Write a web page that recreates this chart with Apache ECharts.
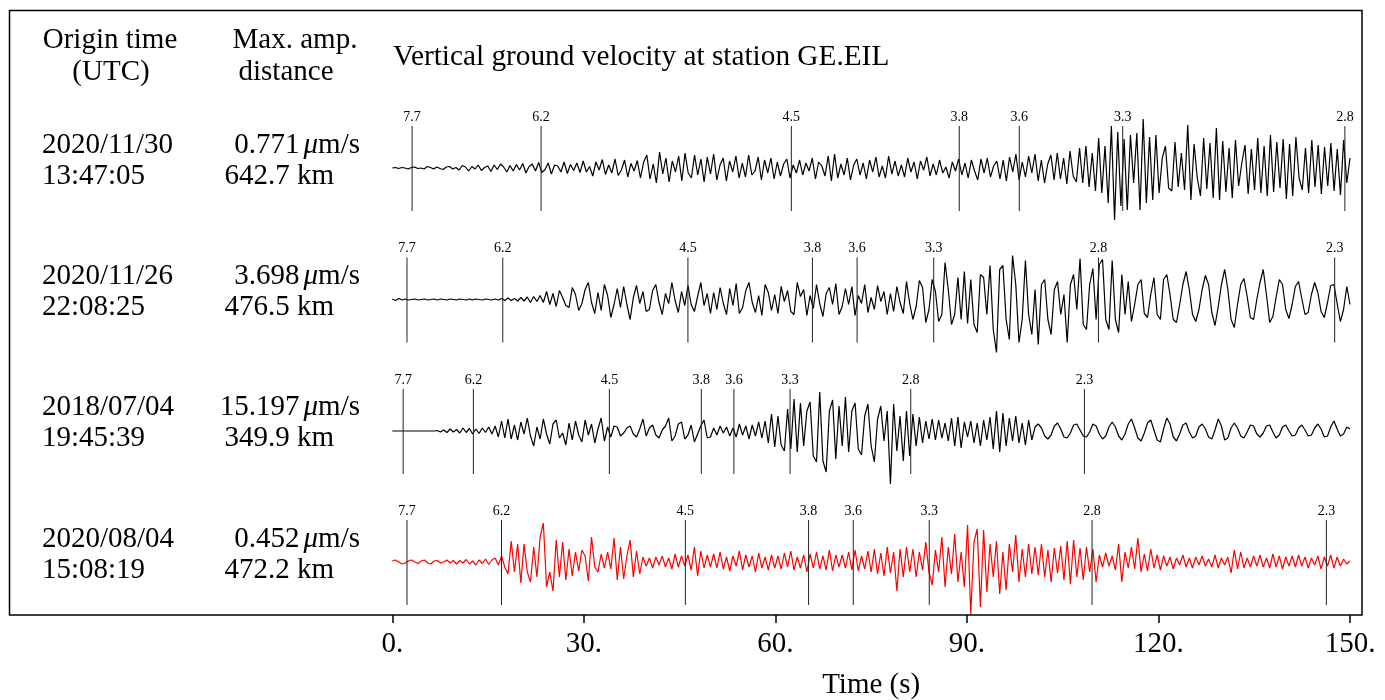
<!DOCTYPE html>
<html><head><meta charset="utf-8">
<script src="https://cdn.jsdelivr.net/npm/echarts@6.0.0/dist/echarts.min.js"></script>
<style>html,body{margin:0;padding:0;background:#fff}#c{width:1385px;height:700px}</style>
</head><body><div id="c"></div>
<script>
// ---- data (amplitudes: normalised, 100 = half trace height unit) ----
const duration = 150; // seconds shown
const trace1 = [
0,1,-1,1,0,-2,1,2,-1,0, -2,3,1,-2,2,-1,-3,2,3,-2,
1,-4,5,2,-6,3,-2,6,-5,1, 4,-7,6,-3,8,2,-8,5,-6,7,
-4,9,-10,3,8,-6,11,-9,-3,10, -12,6,4,-8,12,-11,7,-5,10,-9,
14,-8,3,-16,12,-4,17,-13,6,-10, 18,-15,-4,16,-18,9,-6,15,-20,12,
26,-22,8,-30,32,-12,20,-28,14,-8, 24,-26,30,-10,-20,26,-14,18,-28,22,
-12,28,-24,6,20,-26,14,-8,24,-20, 10,-18,26,-14,-6,22,-24,16,-10,20,
-22,12,-16,8,18,-20,6,-10,16,-14, 10,-6,20,-22,12,4,-16,24,-26,28,
-20,8,-14,20,-24,6,18,-14,10,-22, 16,-8,22,-18,4,-20,24,-12,14,-16,
6,-18,20,-8,12,-22,14,-4,22,-16, 8,-14,16,-10,2,-20,12,-6,18,-14,
10,-20,16,-6,-24,18,-10,20,-18,4, 14,-22,16,-26,22,-8,28,-24,12,-18,
24,-10,28,-26,16,-30,8,26,-24,30, -22,20,-32,34,-16,-28,40,-30,44,-38,
30,-46,60,-50,44,-70,84,-104,72,-76, 58,-84,66,-30,70,-84,98,-70,62,-64,
66,-50,20,44,-40,-46,52,-38,30,-44, 86,-64,48,-20,-56,60,-42,50,-60,80,
-64,54,-48,40,-60,56,-36,10,46,-52, 38,-44,60,-50,44,-56,66,-48,52,-40,
58,-62,48,-56,62,-20,-44,40,-50,56, -38,46,-52,42,-36,50,-46,38,-54,56, -30,20
];
const trace2 = [
1,-2,2,-1,1,-1,0,1,-1,0, 1,-1,0,1,-1,1,0,-1,1,0,
-1,1,0,-1,1,-1,1,0,-1,1, 0,-1,1,-1,2,-2,3,-2,2,-3,
4,-3,5,-6,6,-4,8,-6,16,-10, 12,-14,18,4,-12,-16,24,10,-22,-8,
20,34,-6,-28,14,-22,30,8,-36,-10, 22,-16,26,-10,-40,4,28,-8,16,-24,
-20,18,30,-6,-30,12,-8,34,-2,-26, 16,-12,28,-10,-24,6,34,-12,12,-28,
14,-20,24,-8,-30,22,-12,32,-28,-16, 18,34,-6,-26,8,-32,30,14,-22,10,
-28,26,-4,18,-24,-30,34,6,20,-32, 8,-18,30,-8,-34,12,24,-10,32,-30,
-14,22,-10,26,-32,8,-8,30,-26,4, -20,28,-4,16,-30,12,-24,26,-6,-28,
36,-8,-40,-14,38,24,-46,-20,40,16, -44,-30,74,20,-50,-30,44,-40,56,-48,
40,-50,-66,50,44,-30,68,-60,-106,60, 68,-40,-80,88,30,-86,-40,78,-30,-70,
20,-90,30,40,-40,-70,20,36,-30,10, -86,30,50,-20,82,-50,-60,30,62,-40,
70,80,-40,-60,78,-40,-66,50,-30,36, -44,-10,30,40,-28,-36,10,44,-30,-40,
40,50,10,-40,-46,-10,30,56,20,-30, -44,-20,20,48,30,-26,-52,-14,30,60,
20,-40,-56,-10,30,42,6,-36,-40,0, 34,60,10,-46,-34,4,40,30,-20,-38,
-10,26,36,2,-30,-26,10,34,14,-24, -36,-6,28,30,-8,-44,-20,26,-10
];
const trace3 = [
0,0,0,0,0,0,0,0,0,0, 0,0,0,0,1,-2,2,-3,4,-2,
3,-4,6,-3,5,-6,4,-5,6,-3, 8,-6,10,-12,20,-14,24,-16,12,-18,
18,-6,26,-10,-30,8,-16,24,-6,-26, 14,22,-14,-4,-28,16,-18,20,-8,-22,
22,-8,14,-24,4,26,-20,8,-12,10, 8,-10,-4,6,10,-6,-12,4,24,-10,
6,12,-8,-14,2,10,26,-20,-10,14, 18,-16,-8,12,-22,-6,10,22,-14,-12,
6,-8,10,-4,8,-10,6,-12,14,-8, 10,-16,12,-10,18,-14,20,-24,34,-32,
30,-28,-40,44,-36,64,-42,56,-30,40, 58,-50,-62,78,-60,-82,40,62,-56,50,
-30,68,-42,40,56,-36,-48,30,54,-30, -62,24,50,-20,40,-106,54,-40,30,-60,
40,-50,34,-30,28,-24,20,-16,24,-18, 22,-14,16,-20,26,-30,28,-34,18,-12,
20,-24,16,-30,22,-18,28,-36,40,-42, 36,-30,26,-20,30,-24,16,-28,22,-18,
8,14,6,-10,-16,-8,10,16,4,-12, -14,-4,12,14,2,-10,-12,-2,14,10,
-6,-16,-10,8,18,8,-10,-18,-6,14, 24,6,-14,-20,-4,16,22,2,-18,-22,
4,26,14,-12,-20,-6,12,16,-2,-14, -10,8,14,4,-12,-16,2,24,10,-18,
-14,6,16,6,-10,-14,-2,12,10,-6, -12,-4,10,12,-2,-14,-8,8,12,0,
-10,-8,6,12,2,-10,-8,6,14,4, -12,-10,8,20,4,-10,-6,8,4
];
const trace4 = [
2,4,0,-4,-2,2,4,0,-3,2, 4,-2,-4,2,3,-2,0,4,-2,3,
-4,3,-2,5,-4,2,-6,4,-3,6, -5,4,8,-6,12,-10,-24,42,-20,36,
-42,36,-20,-40,30,-30,50,78,-50,-20, -58,44,-30,40,-36,26,-28,20,-18,24,
12,-38,50,-10,-20,16,-12,20,-14,48, -36,30,-34,12,44,-30,22,-24,10,-8,
8,-12,10,-6,12,-10,8,-14,16,-10, 12,-8,14,-16,30,-28,22,-12,14,-10,
16,-12,20,-14,10,-18,12,-8,22,-16, 14,-10,12,-20,18,-12,10,-16,14,-12,
12,-14,18,-10,22,-16,10,-12,14,-20, 16,-12,20,-14,12,-16,24,-18,14,-10,
14,-12,20,-16,24,-18,12,-14,22,-20, 26,-24,18,-28,30,-22,20,-58,26,-30,
30,-20,26,-30,20,-16,40,-20,-46,24, -20,50,-50,30,-24,56,-40,20,-50,74,
-104,40,66,-90,64,-60,36,-30,42,-64, 20,-56,36,-20,54,-40,26,-30,36,-24,
30,-26,36,-30,24,-40,28,-22,32,-36, 42,-44,44,-30,28,-36,30,-20,26,-40,
14,-10,18,-8,12,-16,36,-40,20,-12, 30,-14,48,-20,16,-18,26,-12,14,-16,
12,-8,10,-14,8,-6,14,-10,8,-12, 10,-6,12,-8,6,-10,14,-12,8,-6,
10,-22,24,-14,20,-12,8,-10,12,-8, 14,-10,8,-12,16,-10,12,-14,10,-8,
12,-10,14,-8,10,-12,8,-6,12,-14, 10,-8,14,-12,10,-8,6,-4,2
];
const markerLabels1 = ['7.7','6.2','4.5','3.8','3.6','3.3','2.8'];
const markerLabels = ['7.7','6.2','4.5','3.8','3.6','3.3','2.8','2.3'];
const markerTimes1 = [3.1,23.3,62.5,88.8,98.2,114.4,149.2];
const markerTimes2 = [2.3,17.3,46.3,65.8,72.8,84.8,110.6,147.6];
const markerTimes3 = [1.7,12.7,34.0,48.4,53.5,62.3,81.2,108.4];
const markerTimes4 = [2.3,17.1,45.9,65.2,72.2,84.1,109.6,146.3];
const originDates = ['2020/11/30','2020/11/26','2018/07/04','2020/08/04'];
const originClock = ['13:47:05','22:08:25','19:45:39','15:08:19'];
const maxAmps = ['0.771','3.698','15.197','0.452'];
const distances = ['642.7 km','476.5 km','349.9 km','472.2 km'];
const xTickStep = 30;
const traceColors = ['#000000','#000000','#000000','#ff0000'];

// ---- layout ----
const FONT = '"Liberation Serif", "DejaVu Serif", serif';
const FS = 29;
const plotLeft = 392.3, plotWidth = 957.7;
const baselines = [168, 299.5, 431, 562];
const half = 70;
const traces = [trace1, trace2, trace3, trace4];
const mTimes = [markerTimes1, markerTimes2, markerTimes3, markerTimes4];
const mLabels = [markerLabels1, markerLabels, markerLabels, markerLabels];

const grid = [], xAxis = [], yAxis = [], series = [];
traces.forEach((tr, i) => {
  grid.push({left: plotLeft, width: plotWidth, top: baselines[i] - half, height: 2 * half,
             containLabel: false, outerBoundsMode: 'none'});
  xAxis.push({type: 'value', gridIndex: i, min: 0, max: duration, show: false});
  yAxis.push({type: 'value', gridIndex: i, min: -140, max: 140, show: false});
  const dt = duration / (tr.length - 1);
  series.push({
    type: 'line', xAxisIndex: i, yAxisIndex: i, silent: true, animation: false,
    symbol: 'none', showSymbol: false,
    data: tr.map((v, k) => [k * dt, v]),
    lineStyle: {color: traceColors[i], width: 1.2}
  });
  const labs = mLabels[i];
  series.push({
    type: 'custom', xAxisIndex: i, yAxisIndex: i, silent: true, animation: false, z: 5,
    data: mTimes[i].map(t => [t, 0]),
    renderItem: (params, api) => {
      const top = api.coord([api.value(0), 84]);
      const bot = api.coord([api.value(0), -86]);
      return {type: 'group', children: [
        {type: 'line', shape: {x1: top[0], y1: top[1], x2: bot[0], y2: bot[1]},
         style: {stroke: '#222', lineWidth: 1}},
        {type: 'text', x: top[0], y: top[1] - 9,
         style: {text: labs[params.dataIndex], align: 'center', verticalAlign: 'middle',
                 font: '14px ' + FONT, fill: '#000'}}
      ]};
    }
  });
});
// bottom time axis
grid.push({left: plotLeft, width: plotWidth, top: 10, height: 605,
           containLabel: false, outerBoundsMode: 'none'});
xAxis.push({
  type: 'value', gridIndex: 4, min: 0, max: duration, interval: xTickStep,
  axisLine: {show: false}, splitLine: {show: false},
  axisTick: {show: true, inside: false, length: 8, lineStyle: {color: '#000', width: 1.5}},
  axisLabel: {formatter: v => v + '.', fontFamily: FONT, fontSize: FS, color: '#000', margin: 15,
              showMinLabel: true, showMaxLabel: true},
  name: 'Time (s)', nameLocation: 'middle', nameGap: 56,
  nameTextStyle: {fontFamily: FONT, fontSize: FS, color: '#000'}
});
yAxis.push({type: 'value', gridIndex: 4, min: 0, max: 1, show: false});

const txt = (text, x, y, align, size) => ({
  type: 'text', x: x, y: y, silent: true,
  style: {text: text, align: align, verticalAlign: 'middle', font: (size || FS) + 'px ' + FONT, fill: '#000'}
});
const graphic = [
  {type: 'rect', silent: true, shape: {x: 9.5, y: 10.5, width: 1352.5, height: 604.5},
   style: {fill: 'none', stroke: '#000', lineWidth: 1.5}},
  txt('Vertical ground velocity at station GE.EIL', 393, 57, 'left', 29.3),
  txt('Origin time', 110, 40, 'center'),
  txt('(UTC)', 111, 72, 'center'),
  txt('Max. amp.', 295, 40, 'center'),
  txt('distance', 286, 72, 'center')
];
const rowTop = [145, 276, 407, 539];
const rowBot = [176, 307, 438, 570];
for (let i = 0; i < 4; i++) {
  graphic.push(txt(originDates[i], 42, rowTop[i], 'left'));
  graphic.push(txt(originClock[i], 42, rowBot[i], 'left'));
  graphic.push({
    type: 'text', x: 360, y: rowTop[i], silent: true,
    style: {text: '{n|' + maxAmps[i] + '}{m|μ}{n|m/s}', align: 'right', verticalAlign: 'middle',
      rich: {n: {fontFamily: FONT, fontSize: FS, fill: '#000'},
             m: {fontFamily: FONT, fontSize: FS, fontStyle: 'italic', fill: '#000', padding: [0, 0, 0, 4]}}}
  });
  graphic.push(txt(distances[i], 334, rowBot[i], 'right'));
}

const chart = echarts.init(document.getElementById('c'), null, {renderer: 'canvas'});
chart.setOption({animation: false, backgroundColor: '#fff', grid, xAxis, yAxis, series, graphic});
</script></body></html>
